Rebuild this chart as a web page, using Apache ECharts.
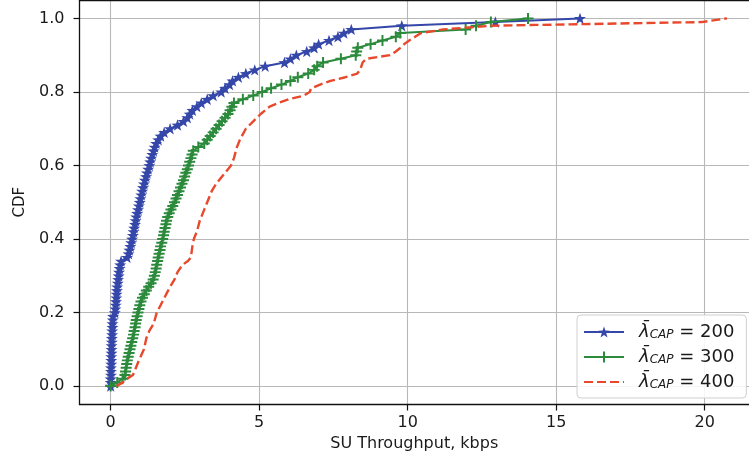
<!DOCTYPE html>
<html>
<head>
<meta charset="utf-8">
<script src="https://cdn.jsdelivr.net/npm/echarts@6/dist/echarts.min.js"></script>
<style>
  html, body { margin: 0; padding: 0; background: #ffffff; }
  #chart { width: 749px; height: 457px; }
</style>
</head>
<body>
<div id="chart"></div>
<script>
// CDF levels shared by the two marker series (one step per sample)
const cdfLevels = [
  0.00, 0.01, 0.02, 0.03, 0.04, 0.05, 0.06, 0.07, 0.08, 0.09,
  0.10, 0.11, 0.12, 0.13, 0.14, 0.15, 0.16, 0.17, 0.18, 0.19,
  0.20, 0.21, 0.22, 0.23, 0.24, 0.25, 0.26, 0.27, 0.28, 0.29,
  0.30, 0.31, 0.32, 0.33, 0.34, 0.35, 0.36, 0.37, 0.38, 0.39,
  0.40, 0.41, 0.42, 0.43, 0.44, 0.45, 0.46, 0.47, 0.48, 0.49,
  0.50, 0.51, 0.52, 0.53, 0.54, 0.55, 0.56, 0.57, 0.58, 0.59,
  0.60, 0.61, 0.62, 0.63, 0.64, 0.65, 0.66, 0.67, 0.68, 0.69,
  0.70, 0.71, 0.72, 0.73, 0.74, 0.75, 0.76, 0.77, 0.78, 0.79,
  0.80, 0.81, 0.82, 0.83, 0.84, 0.85, 0.86, 0.87, 0.88, 0.89,
  0.90, 0.91, 0.92, 0.93, 0.94, 0.95, 0.96, 0.97, 0.98, 0.99,
  1.00
];

// SU throughput (kbps) per CDF level, lambda_CAP = 200
const throughput200 = [
  0.00, 0.00, 0.00, 0.01, 0.01, 0.01, 0.02, 0.02, 0.02, 0.03,
  0.03, 0.03, 0.04, 0.04, 0.05, 0.05, 0.06, 0.06, 0.07, 0.08,
  0.14, 0.16, 0.17, 0.18, 0.19, 0.20, 0.21, 0.22, 0.24, 0.25,
  0.27, 0.28, 0.30, 0.32, 0.35, 0.55, 0.60, 0.63, 0.66, 0.69,
  0.72, 0.75, 0.77, 0.79, 0.82, 0.84, 0.86, 0.89, 0.92, 0.95,
  0.98, 1.00, 1.03, 1.06, 1.09, 1.12, 1.15, 1.19, 1.22, 1.26,
  1.30, 1.33, 1.36, 1.40, 1.44, 1.48, 1.53, 1.60, 1.68, 1.80,
  2.00, 2.25, 2.45, 2.58, 2.66, 2.75, 2.90, 3.05, 3.25, 3.45,
  3.72, 3.85, 4.00, 4.10, 4.30, 4.55, 4.85, 5.20, 5.85, 6.05,
  6.25, 6.60, 6.85, 7.00, 7.35, 7.65, 7.85, 8.10, 9.80, 12.95,
  15.80
];

// SU throughput (kbps) per CDF level, lambda_CAP = 300
const throughput300 = [
  0.00, 0.22, 0.40, 0.48, 0.50, 0.52, 0.54, 0.56, 0.59, 0.62,
  0.65, 0.68, 0.71, 0.74, 0.77, 0.79, 0.82, 0.84, 0.86, 0.89,
  0.92, 0.95, 0.98, 1.02, 1.07, 1.13, 1.20, 1.28, 1.36, 1.43,
  1.47, 1.50, 1.53, 1.55, 1.58, 1.60, 1.63, 1.66, 1.68, 1.72,
  1.75, 1.78, 1.80, 1.83, 1.86, 1.88, 1.92, 1.97, 2.03, 2.09,
  2.15, 2.20, 2.25, 2.30, 2.35, 2.40, 2.45, 2.49, 2.53, 2.58,
  2.62, 2.66, 2.70, 2.74, 2.78, 2.95, 3.15, 3.25, 3.35, 3.45,
  3.55, 3.65, 3.75, 3.85, 3.95, 4.02, 4.08, 4.15, 4.45, 4.80,
  5.10, 5.40, 5.75, 6.05, 6.30, 6.65, 6.85, 6.95, 7.15, 7.75,
  8.25, 8.28, 8.32, 8.75, 9.15, 9.60, 9.75, 11.95, 12.30, 12.80,
  14.05
];

// lambda_CAP = 400 is drawn as a plain dashed curve
const cdf400 = [
  0.00, 0.01, 0.02, 0.03, 0.05, 0.07, 0.10, 0.13, 0.15, 0.17,
  0.20, 0.22, 0.25, 0.27, 0.29, 0.31, 0.33, 0.34, 0.35, 0.38,
  0.40, 0.42, 0.45, 0.48, 0.50, 0.53, 0.55, 0.57, 0.60, 0.62,
  0.65, 0.67, 0.70, 0.72, 0.74, 0.76, 0.77, 0.78, 0.79, 0.80,
  0.81, 0.82, 0.83, 0.84, 0.85, 0.86, 0.88, 0.89, 0.90, 0.91,
  0.92, 0.93, 0.94, 0.95, 0.96, 0.97, 0.98, 0.99, 1.00
];
const throughput400 = [
  0.20, 0.40, 0.55, 0.75, 0.85, 0.95, 1.12, 1.20, 1.30, 1.45,
  1.55, 1.68, 1.87, 2.00, 2.15, 2.25, 2.42, 2.60, 2.70, 2.75,
  2.80, 2.90, 3.00, 3.15, 3.25, 3.40, 3.55, 3.75, 4.05, 4.15,
  4.25, 4.35, 4.55, 4.80, 5.05, 5.35, 5.65, 6.00, 6.50, 6.70,
  6.75, 7.05, 7.40, 7.90, 8.30, 8.40, 8.48, 8.60, 9.40, 9.60,
  9.75, 9.88, 10.05, 10.25, 10.45, 11.20, 12.80, 19.90, 20.75
];

const capValues = ['200', '300', '400'];
const xTicks = [0, 5, 10, 15, 20];
const yTicks = [0, 0.2, 0.4, 0.6, 0.8, 1.0];

const colors = { c200: '#3547a9', c300: '#2c8a3c', c400: '#e8482b' };

const starPath = 'path://M0,-10 L2.35,-3.24 L9.51,-3.09 L3.8,1.24 L5.88,8.09 L0,4 L-5.88,8.09 L-3.8,1.24 L-9.51,-3.09 L-2.35,-3.24 Z';
const plusPath = 'path://M-1.8,-10 H1.8 V-1.8 H10 V1.8 H1.8 V10 H-1.8 V1.8 H-10 V-1.8 H-1.8 Z';

function pairs(xs, ys) {
  return xs.map((x, i) => [x, ys[i]]);
}

const FONT = 'DejaVu Sans';
const X_MIN = -1.05, X_MAX = 21.49;
const chart = echarts.init(document.getElementById('chart'), null, { renderer: 'canvas' });

chart.setOption({
  backgroundColor: '#ffffff',
  animation: false,
  textStyle: { fontFamily: FONT },
  grid: { left: 79.5, top: 0, bottom: 52.5, right: 0 },
  xAxis: [
    {
      type: 'value', min: X_MIN, max: X_MAX,
      name: 'SU Throughput, kbps', nameLocation: 'middle', nameGap: 26,
      nameTextStyle: { fontFamily: FONT, fontSize: 16, color: '#1a1a1a' },
      axisLine: { show: true, onZero: false, lineStyle: { color: '#111', width: 1.3 } },
      axisTick: { show: true, customValues: xTicks, length: 6, lineStyle: { color: '#111', width: 1.2 } },
      axisLabel: { customValues: xTicks, margin: 10, fontFamily: FONT, fontSize: 16, color: '#1a1a1a' },
      splitLine: { show: true, lineStyle: { color: '#b8b8b8', width: 1.1 } }
    },
    {
      // upper frame edge
      type: 'value', position: 'top', min: X_MIN, max: X_MAX,
      axisLine: { show: true, onZero: false, lineStyle: { color: '#111', width: 1.3 } },
      axisTick: { show: false }, axisLabel: { show: false }, splitLine: { show: false }
    }
  ],
  yAxis: {
    type: 'value', min: -0.05, max: 1.05,
    name: 'CDF', nameLocation: 'middle', nameGap: 52, nameRotate: 90,
    nameTextStyle: { fontFamily: FONT, fontSize: 15, color: '#1a1a1a' },
    axisLine: { show: true, onZero: false, lineStyle: { color: '#111', width: 1.3 } },
    axisTick: { show: true, customValues: yTicks, length: 6, lineStyle: { color: '#111', width: 1.2 } },
    axisLabel: {
      customValues: yTicks, margin: 15, fontFamily: FONT, fontSize: 16, color: '#1a1a1a',
      formatter: v => v.toFixed(1)
    },
    splitLine: { show: true, lineStyle: { color: '#b8b8b8', width: 1.1 } }
  },
  legend: {
    orient: 'vertical', left: 577, top: 315,
    padding: [8, 12, 7, 6], itemGap: 7, itemWidth: 40, itemHeight: 14,
    backgroundColor: 'rgba(255,255,255,0.85)', borderColor: '#cfcfcf', borderWidth: 1, borderRadius: 4,
    data: [
      { name: 'cap200' },
      { name: 'cap300' },
      { name: 'cap400', itemStyle: { color: 'rgba(0,0,0,0)', borderWidth: 0 } }
    ],
    formatter: name => '{l|\u03BB\u0304}{s|CAP}{t| = ' + name.slice(3) + '}',
    textStyle: {
      fontFamily: FONT, color: '#1a1a1a',
      rich: {
        l: { fontFamily: FONT, fontStyle: 'italic', fontSize: 18, lineHeight: 18, padding: [0, 0, 0, 10] },
        s: { fontFamily: FONT, fontStyle: 'italic', fontSize: 12, lineHeight: 18, verticalAlign: 'bottom', padding: [6, 0, 0, 0] },
        t: { fontFamily: FONT, fontSize: 18, lineHeight: 18 }
      }
    }
  },
  series: [
    {
      name: 'cap200', type: 'line', data: pairs(throughput200, cdfLevels),
      symbol: starPath, symbolSize: 12, symbolKeepAspect: true, showAllSymbol: true,
      itemStyle: { color: colors.c200 },
      lineStyle: { color: colors.c200, width: 2 }, z: 2
    },
    {
      name: 'cap300', type: 'line', data: pairs(throughput300, cdfLevels),
      symbol: plusPath, symbolSize: 11, symbolKeepAspect: true, showAllSymbol: true,
      itemStyle: { color: colors.c300 },
      lineStyle: { color: colors.c300, width: 2 }, z: 3
    },
    {
      name: 'cap400', type: 'line', data: pairs(throughput400, cdf400),
      symbol: 'none', showSymbol: false,
      itemStyle: { color: colors.c400 },
      lineStyle: { color: colors.c400, width: 2.4, type: [9, 4] }, z: 4
    }
  ]
});
</script>
</body>
</html>
